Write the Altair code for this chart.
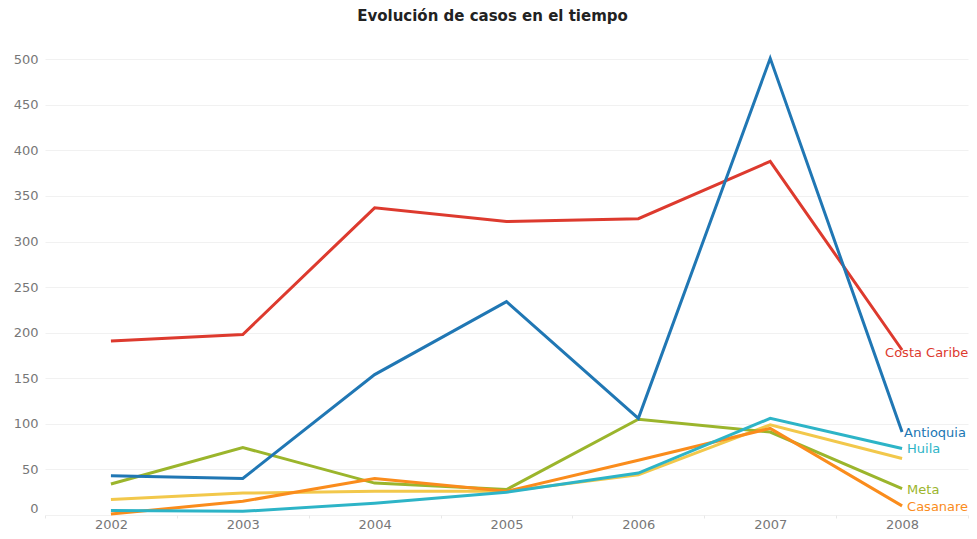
import altair as alt
import pandas as pd

years = [2002, 2003, 2004, 2005, 2006, 2007, 2008]
series_names = ["Otro", "Meta", "Casanare", "Huila", "Costa Caribe", "Antioquia"]
costa_caribe = [191, 198, 337, 322, 325, 388, 181]
antioquia = [43, 40, 154, 234, 106, 501, 91]
huila = [5, 4, 13, 25, 46, 106, 73]
otro = [17, 24, 26, 26, 44, 99, 62]
meta = [34, 74, 35, 28, 105, 91, 29]
casanare = [1, 15, 40, 26, 60, 95, 10]
series_colors = ["#f2c84b", "#9bb52c", "#fa8c1c", "#2db4c7", "#dd3a2e", "#2077b4"]
y_ticks = [0, 50, 100, 150, 200, 250, 300, 350, 400, 450, 500]

values = {
    "Costa Caribe": costa_caribe,
    "Antioquia": antioquia,
    "Huila": huila,
    "Otro": otro,
    "Meta": meta,
    "Casanare": casanare,
}

rows = []
for name in series_names:
    for yr, v in zip(years, values[name]):
        rows.append({"serie": name, "anio": str(yr), "casos": v})
df = pd.DataFrame(rows)

last = df[df["anio"] == str(years[-1])]
lab_main = last[last["serie"].isin(["Huila", "Meta", "Casanare"])]
lab_ant = last[last["serie"] == "Antioquia"]
lab_cc = last[last["serie"] == "Costa Caribe"]

color = alt.Color("serie:N", scale=alt.Scale(domain=series_names, range=series_colors), legend=None)

x = alt.X(
    "anio:O",
    title=None,
    bandPosition=0.5,
    scale=alt.Scale(type="band", paddingInner=0, paddingOuter=0),
    axis=alt.Axis(
        labelAngle=0,
        tickBand="extent",
        ticks=True,
        tickSize=3,
        tickColor="#e8e8e8",
        domain=False,
        grid=False,
        labelPadding=0,
        labelFontSize=13,
        labelColor="#777777",
        labelFont="DejaVu Sans",
    ),
)
y = alt.Y(
    "casos:Q",
    title=None,
    scale=alt.Scale(domain=[0, 520], nice=False),
    axis=alt.Axis(
        values=y_ticks,
        ticks=False,
        domain=False,
        gridColor="#f1f1f1",
        labelFlush=True,
        labelPadding=7,
        labelFontSize=13,
        labelColor="#777777",
        labelFont="DejaVu Sans",
    ),
)

lines = alt.Chart(df).mark_line(strokeWidth=3).encode(x=x, y=y, color=color, detail="serie:N")

def labels(data, dx, dy):
    return alt.Chart(data).mark_text(
        align="left", baseline="middle", dx=dx, dy=dy, fontSize=13, font="DejaVu Sans"
    ).encode(x=x, y=y, text="serie:N", color=color)

chart = alt.layer(
    lines,
    labels(lab_main, 5, 1),
    labels(lab_ant, 2, 1),
    labels(lab_cc, -17, 3),
).properties(
    width=923,
    height=474,
    padding={"left": 5, "top": 1, "right": 0, "bottom": 0},
    title=alt.TitleParams(
        "Evolución de casos en el tiempo",
        fontSize=15,
        font="DejaVu Sans",
        fontWeight="bold",
        color="#222222",
        offset=17,
        dx=-14,
    ),
).configure_view(stroke=None)

chart.save("out.html", embed_options={"renderer": "svg", "actions": False})
